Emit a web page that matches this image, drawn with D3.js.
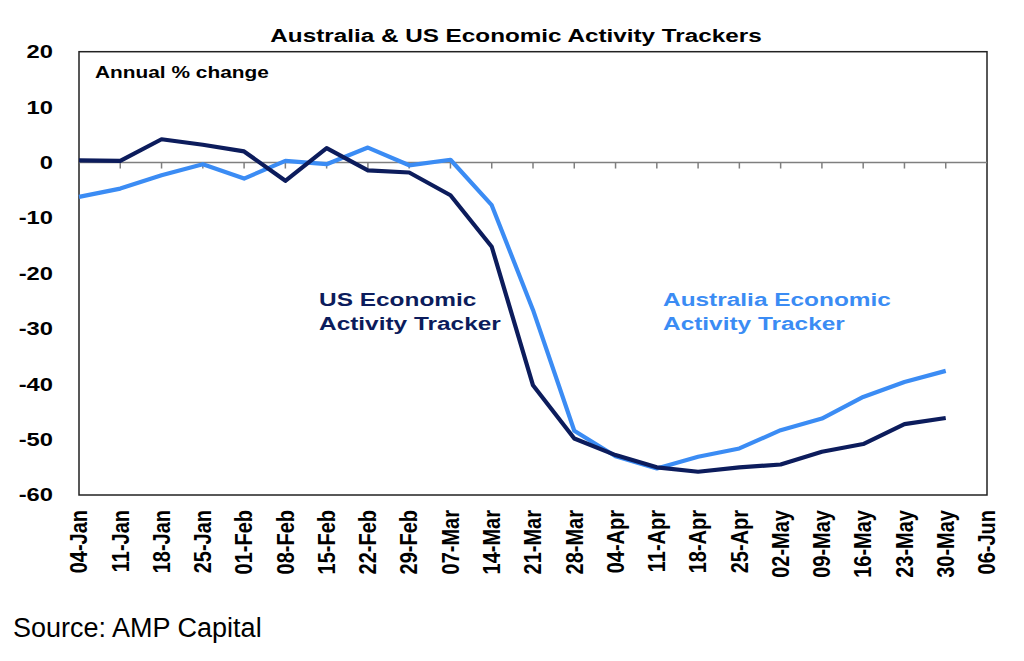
<!DOCTYPE html>
<html>
<head>
<meta charset="utf-8">
<style>
  body { margin: 0; background: #fff; }
  svg text { font-family: "Liberation Sans", Arial, sans-serif; }
</style>
<script src="https://d3js.org/d3.v7.min.js"></script>
</head>
<body>
<div id="chart"></div>
<script>
// week-ending labels on the x axis
var weeks = ["04-Jan","11-Jan","18-Jan","25-Jan","01-Feb","08-Feb","15-Feb","22-Feb","29-Feb",
             "07-Mar","14-Mar","21-Mar","28-Mar","04-Apr","11-Apr","18-Apr","25-Apr",
             "02-May","09-May","16-May","23-May","30-May","06-Jun"];
// annual % change (no value for 06-Jun)
var usTracker = [0.4, 0.3, 4.2, 3.2, 2.0, -3.3, 2.6, -1.4, -1.8, -5.9, -15.2, -40.2, -49.8,
                 -52.8, -55.0, -55.8, -55.0, -54.5, -52.2, -50.8, -47.2, -46.1];
var ausTracker = [-6.2, -4.7, -2.3, -0.3, -2.9, 0.3, -0.3, 2.7, -0.5, 0.5, -7.7, -26.6, -48.4,
                  -53.0, -55.2, -53.1, -51.6, -48.3, -46.2, -42.3, -39.6, -37.6];
var yTicks = [20, 10, 0, -10, -20, -30, -40, -50, -60];

var W = 1024, H = 661;
// plot box (don't call it "top", that's window.top)
var pLeft = 79, pRight = 987, pTop = 51.7, pBottom = 495;
var SX = 1.32; // chart text in the picture is stretched sideways

var svg = d3.select("#chart").append("svg").attr("width", W).attr("height", H);

var x = d3.scalePoint().domain(weeks).range([pLeft, pRight]);
var y = d3.scaleLinear().domain([-60, 20]).range([pBottom, pTop]);

// frame
svg.append("rect")
  .attr("x", pLeft).attr("y", pTop)
  .attr("width", pRight - pLeft).attr("height", pBottom - pTop)
  .attr("fill", "none").attr("stroke", "#222").attr("stroke-width", 1.5);

// zero line with ticks hanging below it
svg.append("line")
  .attr("x1", pLeft).attr("x2", pRight)
  .attr("y1", y(0)).attr("y2", y(0))
  .attr("stroke", "#7f7f7f").attr("stroke-width", 1.5);
svg.selectAll(".zt")
  .data(weeks.slice(1, -1))
  .enter().append("line")
    .attr("x1", function (d) { return x(d); })
    .attr("x2", function (d) { return x(d); })
    .attr("y1", y(0)).attr("y2", y(0) + 6)
    .attr("stroke", "#7f7f7f").attr("stroke-width", 1.5);

// y labels
svg.selectAll(".yl")
  .data(yTicks)
  .enter().append("text")
    .attr("transform", function (d) { return "translate(53," + y(d) + ") scale(" + SX + ",1)"; })
    .attr("text-anchor", "end")
    .attr("dy", "0.36em")
    .style("font-size", "18px")
    .style("font-weight", "bold")
    .text(function (d) { return d; });

// x labels, rotated
svg.selectAll(".xl")
  .data(weeks)
  .enter().append("text")
    .attr("transform", function (d) { return "translate(" + x(d) + ",510) scale(1.15,1) rotate(-90)"; })
    .attr("text-anchor", "end")
    .attr("dy", "0.36em")
    .style("font-size", "20px")
    .style("font-weight", "bold")
    .text(function (d) { return d; });

// lines
var line = d3.line()
  .x(function (d, i) { return x(weeks[i]); })
  .y(function (d) { return y(d); });

svg.append("path").datum(ausTracker)
  .attr("d", line).attr("fill", "none")
  .attr("stroke", "#3b8cf4").attr("stroke-width", 4.2).attr("stroke-linejoin", "round");
svg.append("path").datum(usTracker)
  .attr("d", line).attr("fill", "none")
  .attr("stroke", "#0c1c5c").attr("stroke-width", 4.2).attr("stroke-linejoin", "round");

// texts
function label(tx, ty, size, txt, color, anchor) {
  svg.append("text")
    .attr("transform", "translate(" + tx + "," + ty + ") scale(" + SX + ",1)")
    .attr("text-anchor", anchor || "start")
    .style("font-size", size + "px")
    .style("font-weight", "bold")
    .style("fill", color || "#000")
    .text(txt);
}
label(516, 42, 18.4, "Australia & US Economic Activity Trackers", "#000", "middle");
label(95, 77.5, 15.8, "Annual % change");
label(319, 306, 18.5, "US Economic", "#0c1c5c");
label(319, 330, 18.5, "Activity Tracker", "#0c1c5c");
label(663, 306, 18.5, "Australia Economic", "#3b8cf4");
label(663, 330, 18.5, "Activity Tracker", "#3b8cf4");

svg.append("text")
  .attr("x", 13).attr("y", 637)
  .style("font-size", "27px")
  .text("Source: AMP Capital");
</script>
</body>
</html>
